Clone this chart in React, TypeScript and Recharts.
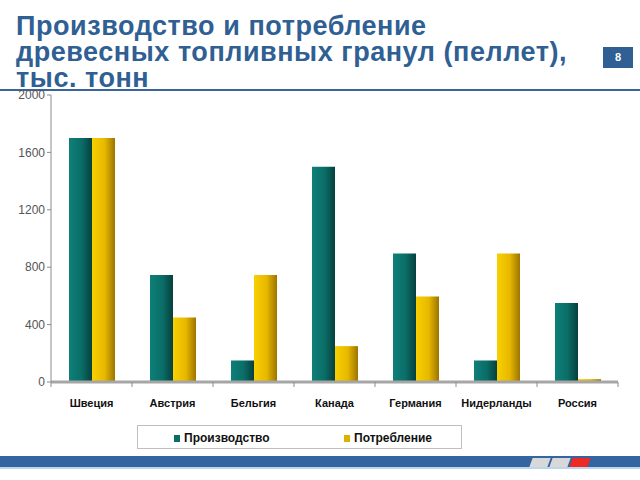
import React from "react";
import { BarChart, Bar, XAxis, YAxis } from "recharts";

const countries = ["Швеция", "Австрия", "Бельгия", "Канада", "Германия", "Нидерланды", "Россия"];
const production = [1700, 745, 150, 1500, 895, 150, 550];
const consumption = [1700, 450, 745, 250, 595, 895, 20];
const yTicks = [0, 400, 800, 1200, 1600, 2000];
const seriesNames = ["Производство", "Потребление"];
const titleLines = ["Производство и потребление", "древесных топливных гранул (пеллет),", "тыс. тонн"];

const data = countries.map((name, i) => ({
  name,
  prod: production[i],
  cons: consumption[i],
}));

const W = 640;
const H = 480;
const LEFT = 51;
const RIGHT = 22;
const BAND = (W - LEFT - RIGHT) / countries.length;
const FONT = "'Liberation Sans', Arial, sans-serif";

function CountryTick(props: any) {
  const { x, y, payload, index } = props;
  const half = BAND / 2;
  return (
    <g>
      <line x1={x - half} y1={y} x2={x - half} y2={y + 5} stroke="#8c8c8c" strokeWidth={1} />
      {index === countries.length - 1 && (
        <line x1={x + half} y1={y} x2={x + half} y2={y + 5} stroke="#8c8c8c" strokeWidth={1} />
      )}
      <text
        x={x}
        y={y + 25}
        textAnchor="middle"
        fontFamily={FONT}
        fontWeight="bold"
        fontSize={11}
        fill="#111"
      >
        {payload.value}
      </text>
    </g>
  );
}

export default function App() {
  return (
    <div
      style={{
        position: "absolute",
        left: 0,
        top: 0,
        width: W,
        height: H,
        background: "#fff",
        overflow: "hidden",
        fontFamily: FONT,
      }}
    >
      {titleLines.map((t, i) => (
        <div
          key={i}
          style={{
            position: "absolute",
            left: 16,
            top: 13 + i * 26,
            height: 26,
            color: "#2f5f93",
            fontWeight: "bold",
            fontSize: 27,
            lineHeight: "26px",
            letterSpacing: 0.55,
            whiteSpace: "nowrap",
          }}
        >
          {t}
        </div>
      ))}
      <div
        style={{
          position: "absolute",
          left: 603,
          top: 47,
          width: 30,
          height: 21,
          background: "#2f5f93",
          color: "#fff",
          fontSize: 11,
          fontWeight: "bold",
          textAlign: "center",
          lineHeight: "21px",
        }}
      >
        8
      </div>
      <div style={{ position: "absolute", left: 0, top: 89, width: W, height: 2, background: "#3a6598" }} />

      <BarChart
        width={W}
        height={H}
        data={data}
        margin={{ top: 95, right: RIGHT, bottom: 68, left: 0 }}
        barGap={0}
        barSize={23}
      >
        <defs>
          <linearGradient id="gTeal" x1="0" y1="0" x2="1" y2="0">
            <stop offset="0%" stopColor="#0d8079" />
            <stop offset="55%" stopColor="#0b6d67" />
            <stop offset="100%" stopColor="#06403d" />
          </linearGradient>
          <linearGradient id="gGold" x1="0" y1="0" x2="1" y2="0">
            <stop offset="0%" stopColor="#f8d000" />
            <stop offset="55%" stopColor="#e8b800" />
            <stop offset="100%" stopColor="#9c7400" />
          </linearGradient>
        </defs>
        <XAxis
          dataKey="name"
          axisLine={{ stroke: "#a6a6a6", strokeWidth: 3 }}
          tickLine={false}
          tickSize={0}
          tickMargin={0}
          height={30}
          interval={0}
          tick={<CountryTick />}
        />
        <YAxis
          width={LEFT}
          domain={[0, 2000]}
          ticks={yTicks}
          interval={0}
          axisLine={{ stroke: "#8c8c8c" }}
          tickLine={{ stroke: "#8c8c8c" }}
          tickSize={4}
          tick={{ fill: "#555", fontSize: 12, fontFamily: FONT }}
        />
        <Bar dataKey="prod" name={seriesNames[0]} fill="url(#gTeal)" isAnimationActive={false} />
        <Bar dataKey="cons" name={seriesNames[1]} fill="url(#gGold)" isAnimationActive={false} />
      </BarChart>

      <div
        style={{
          position: "absolute",
          left: 137,
          top: 425,
          width: 325,
          height: 24,
          border: "1px solid #bfbfbf",
          boxSizing: "border-box",
          fontSize: 12,
          fontWeight: "bold",
          color: "#111",
        }}
      >
        <div style={{ position: "absolute", left: 36, top: 5, display: "flex", alignItems: "center" }}>
          <span style={{ width: 6, height: 7, background: "#0b6d67", marginRight: 4 }} />
          {seriesNames[0]}
        </div>
        <div style={{ position: "absolute", left: 206, top: 5, display: "flex", alignItems: "center" }}>
          <span style={{ width: 6, height: 7, background: "#e0b000", marginRight: 4 }} />
          {seriesNames[1]}
        </div>
      </div>

      <div style={{ position: "absolute", left: 0, top: 456, width: W, height: 11, background: "#3565a0" }} />
      <div style={{ position: "absolute", left: 0, top: 467, width: W, height: 2, background: "#bcd6ee" }} />
      {["#d8d8d8", "#d8d8d8", "#ee2a24"].map((c, i) => (
        <div
          key={i}
          style={{
            position: "absolute",
            left: 531 + i * 20,
            top: 458,
            width: 18,
            height: 9,
            background: c,
            transform: "skewX(-20deg)",
          }}
        />
      ))}
    </div>
  );
}
